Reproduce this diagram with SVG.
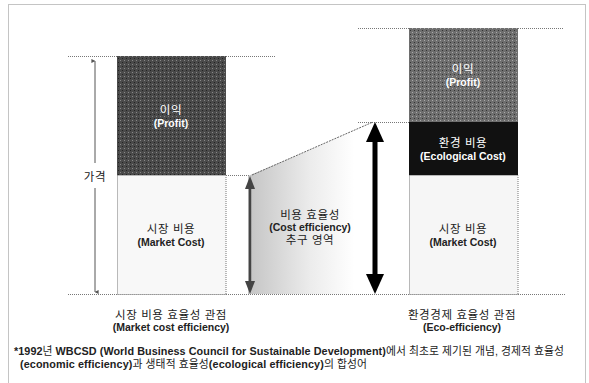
<svg xmlns="http://www.w3.org/2000/svg" width="589" height="383" viewBox="0 0 589 383">
<style>
.ko{font-family:"Liberation Sans","Noto Sans CJK KR",sans-serif;font-size:11.5px;letter-spacing:0.6px;text-anchor:middle}
.en{font-family:"Liberation Sans","Noto Sans CJK KR",sans-serif;font-size:10.5px;font-weight:bold;text-anchor:middle}
.w{fill:#ffffff}
.k{fill:#222222}
.dot{stroke:#777;stroke-width:1;stroke-dasharray:1 1;fill:none}
.fn{font-family:"Liberation Sans","Noto Sans CJK KR",sans-serif;font-size:10.8px;fill:#222}
.b{font-weight:bold}
</style>
<defs>
<linearGradient id="ce" x1="0" y1="0" x2="1" y2="0">
<stop offset="0" stop-color="#c4c4c4"/>
<stop offset="0.5" stop-color="#ececec"/>
<stop offset="0.85" stop-color="#ffffff"/>
</linearGradient>
<pattern id="dk" width="4" height="4" patternUnits="userSpaceOnUse">
<rect width="4" height="4" fill="#4a4a4a"/>
<rect width="1" height="1" fill="#888"/>
<rect x="2" y="2" width="1" height="1" fill="#222"/>
</pattern>
<pattern id="md" width="4" height="4" patternUnits="userSpaceOnUse">
<rect width="4" height="4" fill="#6e6e6e"/>
<rect width="1" height="1" fill="#aaa"/>
<rect x="2" y="2" width="1" height="1" fill="#333"/>
</pattern>
<marker id="ah" viewBox="0 0 10 10" refX="5" refY="9" markerWidth="4" markerHeight="4" orient="auto-start-reverse">
<path d="M0,0 L10,0 L5,10 z" fill="#555"/>
</marker>
</defs>
<rect x="8.5" y="4.5" width="577" height="385" fill="#fff" stroke="#888" stroke-dasharray="1 1"/>

<g id="guides">
<line class="dot" x1="68" y1="56.5" x2="275" y2="56.5"/>
<line class="dot" x1="358" y1="28.5" x2="563" y2="28.5"/>
<line class="dot" x1="68" y1="294.5" x2="566" y2="294.5"/>
<line class="dot" x1="226" y1="175.5" x2="252" y2="175.5"/>
<line class="dot" x1="358" y1="122.5" x2="409" y2="122.5"/>
</g>

<g id="cost-region">
<polygon points="248,176 373,123 373,294 248,294" fill="url(#ce)"/>
<line x1="252" y1="175" x2="373" y2="122" stroke="#666" stroke-width="1" stroke-dasharray="2 1"/>
<text class="ko k" x="310" y="219">비용 효율성</text>
<text class="en k" x="310" y="231">(Cost efficiency)</text>
<text class="ko k" x="310" y="244">추구 영역</text>
</g>

<g id="left-profit">
<rect x="117" y="56" width="109" height="119" fill="url(#dk)"/>
<text class="ko w" x="171" y="114">이익</text>
<text class="en w" x="171" y="127">(Profit)</text>
</g>
<g id="left-market">
<rect x="117.5" y="175.5" width="108.5" height="119" class="dot" style="fill:#f8f8f8"/>
<text class="ko k" x="171" y="233">시장 비용</text>
<text class="en k" x="171" y="246">(Market Cost)</text>
</g>

<g id="right-profit">
<rect x="409" y="28" width="109" height="94" fill="url(#md)"/>
<text class="ko w" x="463" y="73">이익</text>
<text class="en w" x="463" y="86">(Profit)</text>
</g>
<g id="right-eco">
<rect x="409" y="122" width="109" height="53" fill="#111"/>
<text class="ko w" x="463" y="147">환경 비용</text>
<text class="en w" x="463" y="160">(Ecological Cost)</text>
</g>
<g id="right-market">
<rect x="409.5" y="175.5" width="108.5" height="119" class="dot" style="fill:#f6f6f6"/>
<text class="ko k" x="463" y="233">시장 비용</text>
<text class="en k" x="463" y="246">(Market Cost)</text>
</g>

<g id="connectors">
<line x1="95" y1="61" x2="95" y2="163" stroke="#555" stroke-width="1" marker-start="url(#ah)"/>
<line x1="95" y1="188" x2="95" y2="292" stroke="#555" stroke-width="1" marker-end="url(#ah)"/>
<line x1="250" y1="186" x2="250" y2="284" stroke="#444" stroke-width="2.5"/>
<path d="M250,176 L255,189 L245,189 z" fill="#444"/>
<path d="M250,294 L255,281 L245,281 z" fill="#444"/>
<line x1="375" y1="140" x2="375" y2="276" stroke="#000" stroke-width="5"/>
<path d="M375,122 L384,142 L366,142 z" fill="#000"/>
<path d="M375,294 L384,274 L366,274 z" fill="#000"/>
</g>

<g id="labels">
<text class="ko k" x="95" y="181">가격</text>
<text class="ko k" x="171" y="319">시장 비용 효율성 관점</text>
<text class="en k" x="171" y="331">(Market cost efficiency)</text>
<text class="ko k" x="462" y="319">환경경제 효율성 관점</text>
<text class="en k" x="462" y="331">(Eco-efficiency)</text>
</g>

<g id="footnote">
<text class="fn" x="14" y="355" textLength="550" lengthAdjust="spacing"><tspan class="b">*1992</tspan>년 <tspan class="b">WBCSD (World Business Council for Sustainable Development)</tspan>에서 최초로 제기된 개념, 경제적 효율성</text>
<text class="fn" x="20" y="368" textLength="347" lengthAdjust="spacing"><tspan class="b">(economic efficiency)</tspan>과 생태적 효율성<tspan class="b">(ecological efficiency)</tspan>의 합성어</text>
</g>
</svg>
